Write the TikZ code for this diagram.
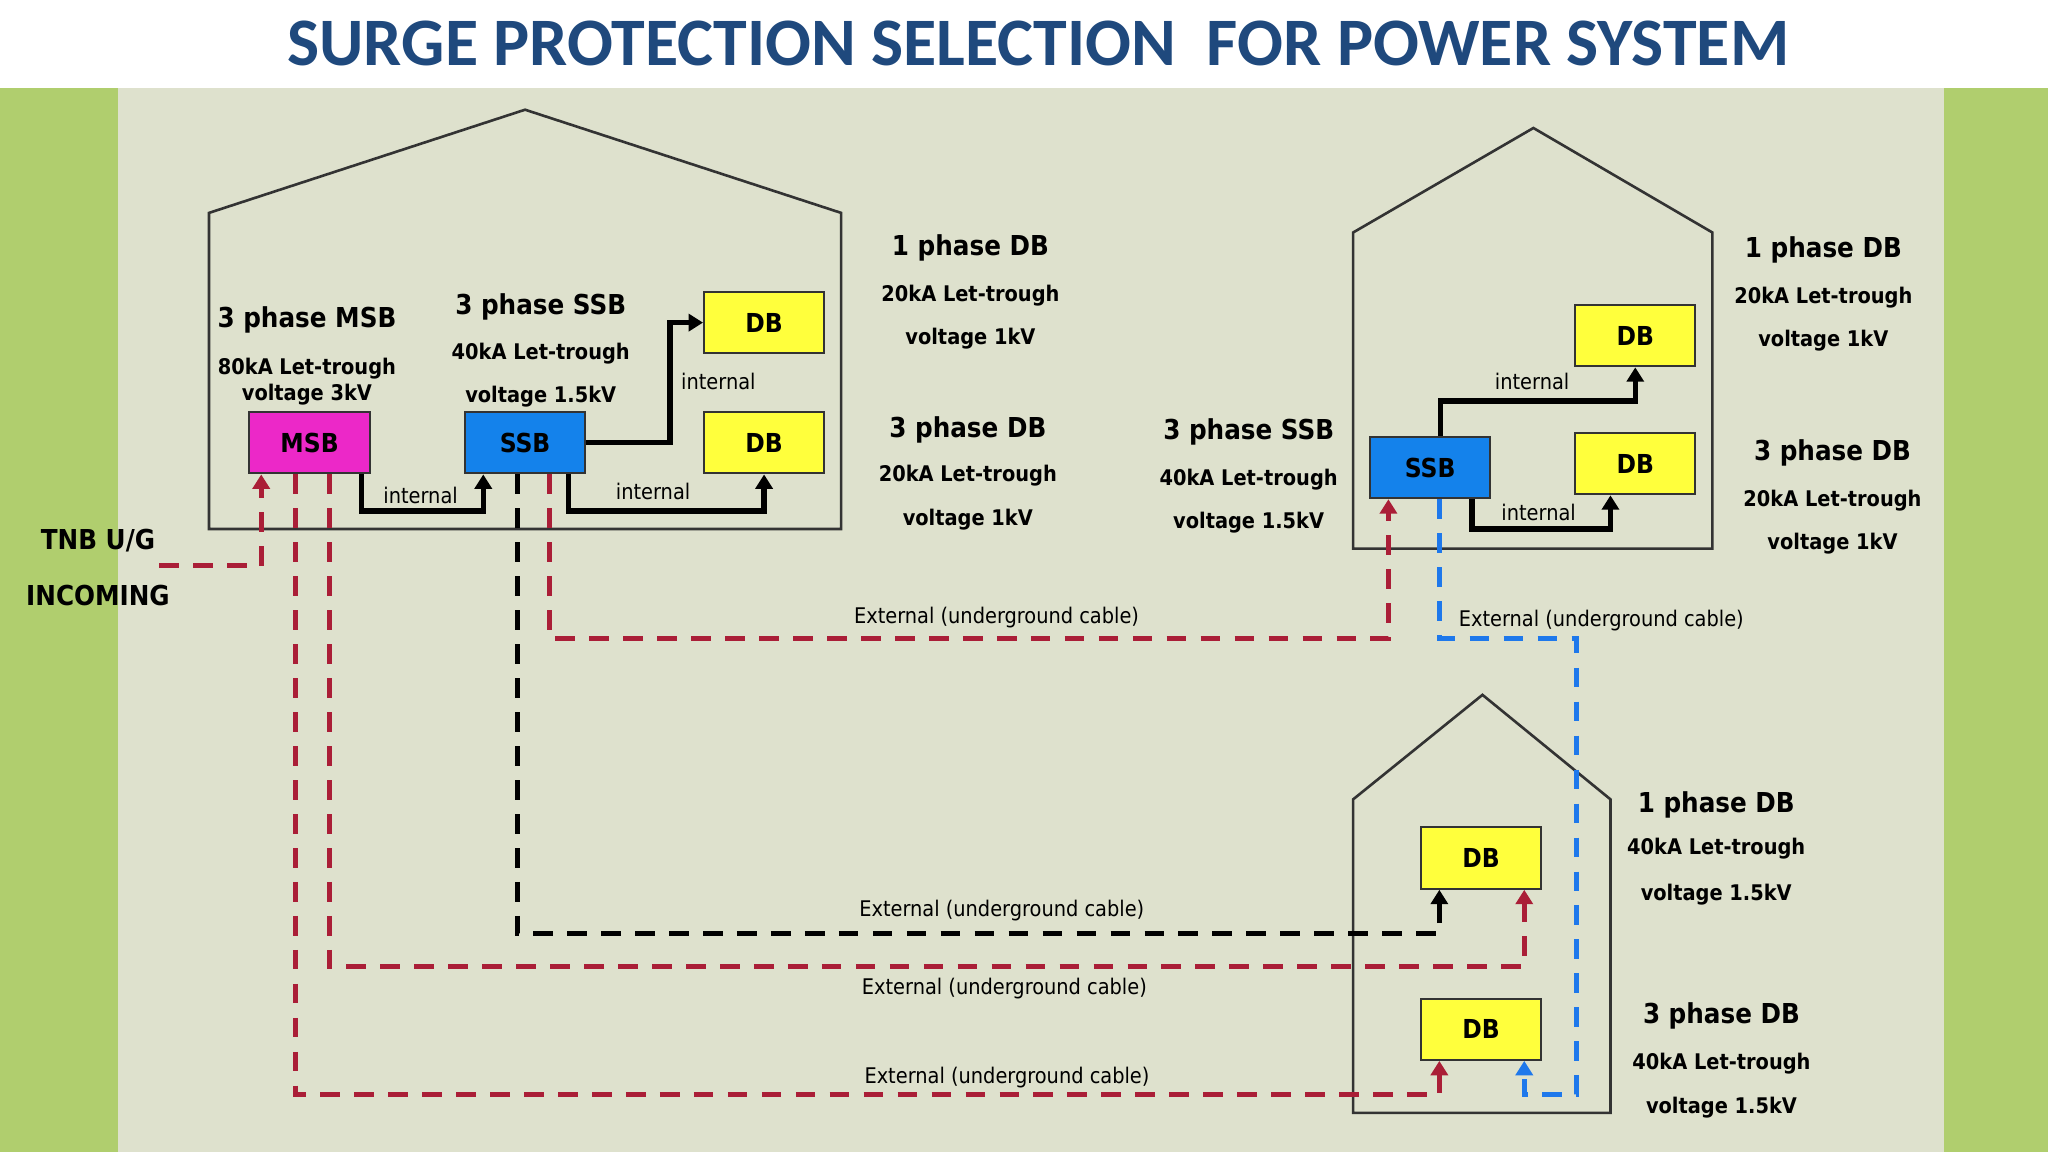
\documentclass[tikz,border=0pt]{standalone}
\usepackage{fontspec}
\setmainfont{DejaVu Sans Condensed}
\newfontfamily\titlef{Carlito}
\usetikzlibrary{arrows.meta}
\definecolor{bg}{RGB}{222,225,205}
\definecolor{grn}{RGB}{176,206,110}
\definecolor{ttl}{RGB}{31,73,125}
\definecolor{dred}{RGB}{170,30,55}
\definecolor{dblue}{RGB}{30,120,235}
\definecolor{mag}{RGB}{236,40,200}
\definecolor{sblue}{RGB}{20,130,235}
\definecolor{yel}{RGB}{255,255,60}
\begin{document}
\begin{tikzpicture}[x=1pt,y=-1pt,
 house/.style={draw=black!80,line width=2pt},
 box/.style={draw=black!80,line width=1.5pt,minimum width=92pt,minimum height=47pt,inner sep=0,font=\fontsize{20}{22}\selectfont\bfseries},
 hd/.style={font=\fontsize{21}{24}\selectfont\bfseries},
 sm/.style={font=\fontsize{16.5}{19}\selectfont\bfseries},
 lab/.style={font=\fontsize{16.5}{19}\selectfont},
 int/.style={draw=black,line width=4pt,-{Triangle[length=11pt,width=13pt]}},
 rd/.style={draw=dred,line width=4pt,dash pattern=on 15pt off 11pt,-{Triangle[length=11pt,width=13pt]}},
 bd/.style={draw=black,line width=4pt,dash pattern=on 15pt off 11pt,-{Triangle[length=11pt,width=13pt]}},
 bl/.style={draw=dblue,line width=4pt,dash pattern=on 15pt off 11pt,-{Triangle[length=11pt,width=13pt]}}]
\useasboundingbox (0,0) rectangle (1568,882);
\fill[white] (0,0) rectangle (1568,67);
\fill[bg] (0,67) rectangle (1568,882);
\fill[grn] (0,67) rectangle (90,882);
\fill[grn] (1488,67) rectangle (1568,882);
\node[text=ttl,font=\titlef\fontsize{52}{56}\selectfont\bfseries] (title) at (795,33) {SURGE PROTECTION SELECTION\ \ FOR POWER SYSTEM};
% houses
\draw[house] (160,405)--(160,163)--(402,84)--(644,163)--(644,405)--cycle;
\draw[house] (1036,420)--(1036,178)--(1174,98)--(1311,178)--(1311,420)--cycle;
\draw[house] (1036,852)--(1036,612)--(1135,532)--(1233,612)--(1233,852)--cycle;
% boxes
\node[box,fill=mag] (msb) at (237,339) {MSB};
\node[box,fill=sblue] (ssb) at (402,339) {SSB};
\node[box,fill=yel] (db1) at (585,247) {DB};
\node[box,fill=yel] (db2) at (585,339) {DB};
\node[box,fill=sblue] (ssb2) at (1095,358) {SSB};
\node[box,fill=yel] (db3) at (1252,257) {DB};
\node[box,fill=yel] (db4) at (1252,355) {DB};
\node[box,fill=yel] (db5) at (1134,657) {DB};
\node[box,fill=yel] (db6) at (1134,788) {DB};
% internal
\draw[int] ([xshift=40pt]msb.south) -- ++(0,28) -| ([xshift=-32pt]ssb.south);
\draw[int] (ssb.east) -- (513,339) |- (db1.west);
\draw[int] ([xshift=33pt]ssb.south) -- ++(0,28) -| (db2.south);
\draw[int] ([xshift=8pt]ssb2.north) -- (1103,307) -| (db3.south);
\draw[int] ([xshift=32pt]ssb2.south) -- (1127,405) -| ([xshift=-19pt]db4.south);
\node[lab] (i1) at (322,379) {internal};
\node[lab] (i2) at (550,292) {internal};
\node[lab] (i3) at (500,376) {internal};
\node[lab] (i4) at (1173,292) {internal};
\node[lab] (i5) at (1178,392) {internal};
% external
\coordinate (tnb) at (122,433);
\draw[rd] (tnb) -| ([xshift=-37pt]msb.south);
\draw[rd] ([xshift=-11pt]msb.south) -- (226,838) -| ([xshift=-32pt]db6.south);
\draw[rd] ([xshift=15pt]msb.south) -- (252,740) -| ([xshift=33pt]db5.south);
\draw[rd] ([xshift=19pt]ssb.south) -- (421,489) -| ([xshift=-32pt]ssb2.south);
\draw[bd] ([xshift=-6pt]ssb.south) -- (396,715) -| ([xshift=-32pt]db5.south);
\draw[bl] ([xshift=7pt]ssb2.south) -- (1102,489) -- (1207,489) -- (1207,838) -| ([xshift=33pt]db6.south);
\node[lab] (e1) at (763,473) {External (underground cable)};
\node[lab] (e2) at (1226,475) {External (underground cable)};
\node[lab] (e3) at (767,697) {External (underground cable)};
\node[lab] (e4) at (769,757) {External (underground cable)};
\node[lab] (e5) at (771,825) {External (underground cable)};
% texts
\node[hd] (t1) at (235,245) {3 phase MSB};
\node[sm] (t2) at (235,282) {80kA Let-trough};
\node[sm] (t3) at (235,302) {voltage 3kV};
\node[hd] (t4) at (414,235) {3 phase SSB};
\node[sm] (t5) at (414,271) {40kA Let-trough};
\node[sm] (t6) at (414,304) {voltage 1.5kV};
\node[hd] (t7) at (743,190) {1 phase DB};
\node[sm] (t8) at (743,226) {20kA Let-trough};
\node[sm] (t9) at (743,259) {voltage 1kV};
\node[hd] (t10) at (741,329) {3 phase DB};
\node[sm] (t11) at (741,364) {20kA Let-trough};
\node[sm] (t12) at (741,398) {voltage 1kV};
\node[hd] (t13) at (956,331) {3 phase SSB};
\node[sm] (t14) at (956,367) {40kA Let-trough};
\node[sm] (t15) at (956,400) {voltage 1.5kV};
\node[hd] (t16) at (1396,191) {1 phase DB};
\node[sm] (t17) at (1396,228) {20kA Let-trough};
\node[sm] (t18) at (1396,261) {voltage 1kV};
\node[hd] (t19) at (1403,347) {3 phase DB};
\node[sm] (t20) at (1403,383) {20kA Let-trough};
\node[sm] (t21) at (1403,416) {voltage 1kV};
\node[hd] (t22) at (1314,616) {1 phase DB};
\node[sm] (t23) at (1314,650) {40kA Let-trough};
\node[sm] (t24) at (1314,685) {voltage 1.5kV};
\node[hd] (t25) at (1318,778) {3 phase DB};
\node[sm] (t26) at (1318,814) {40kA Let-trough};
\node[sm] (t27) at (1318,848) {voltage 1.5kV};
\node[hd] (t28) at (75,414) {TNB U/G};
\node[hd] (t29) at (75,456) {INCOMING};
\end{tikzpicture}
\end{document}
